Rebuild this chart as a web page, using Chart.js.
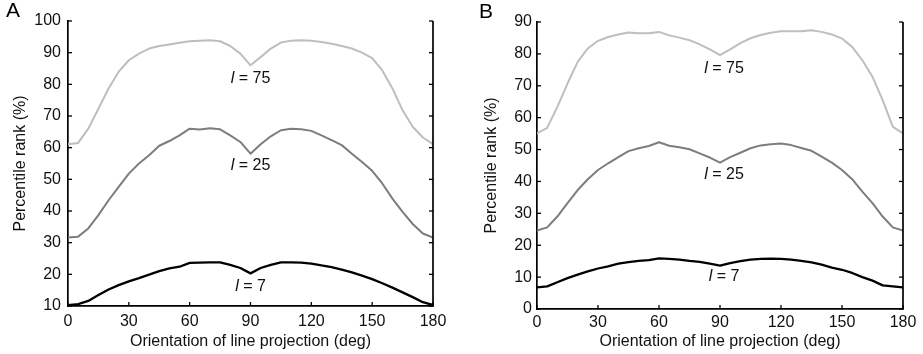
<!DOCTYPE html>
<html><head><meta charset="utf-8">
<script src="https://cdn.jsdelivr.net/npm/chart.js@4.4.1/dist/chart.umd.min.js"></script>
<style>
html,body{margin:0;padding:0;background:#fff;}
#wrap{position:relative;width:923px;height:354px;overflow:hidden;background:#fff;}
canvas{position:absolute;top:0;}
</style></head><body>
<div id="wrap">
<canvas id="a" width="462" height="354" style="left:0"></canvas>
<canvas id="b" width="461" height="354" style="left:462px"></canvas>
</div>
<script>
// ---- data ----
const angles = [0,5,10,15,20,25,30,35,40,45,50,55,60,65,70,75,80,85,90,95,100,105,110,115,120,125,130,135,140,145,150,155,160,165,170,175,180];
const xTicks = [0,30,60,90,120,150,180];
const seriesNames = ['l = 75','l = 25','l = 7'];

// Panel A
const aL75 = [61.1,61.5,66.0,72.3,78.7,84.0,87.6,89.7,91.3,92.1,92.6,93.1,93.6,93.8,93.9,93.6,92.1,89.7,86.0,88.6,91.3,93.2,93.8,93.9,93.8,93.4,92.8,92.1,91.3,90.0,88.3,84.4,78.7,71.8,66.6,63.2,61.1];
const aL25 = [31.6,31.9,34.5,38.7,43.4,47.6,51.8,55.0,57.6,60.6,62.1,63.9,66.0,65.7,66.1,65.8,63.9,61.8,58.1,61.1,63.6,65.5,66.0,65.8,65.3,63.9,62.4,60.8,58.1,55.5,52.7,48.7,43.9,39.7,35.9,32.9,31.6];
const aL7  = [10.3,10.6,11.6,13.5,15.2,16.6,17.8,18.8,19.9,21.0,21.9,22.4,23.6,23.7,23.8,23.8,23.0,22.0,20.3,22.0,23.0,23.8,23.8,23.7,23.4,22.8,22.3,21.5,20.6,19.6,18.5,17.2,15.8,14.3,12.8,11.2,10.3];
const aYTicks = [10,20,30,40,50,60,70,80,90,100];

// Panel B
const bL75 = [55.1,56.8,63.4,70.7,77.5,81.7,84.1,85.3,86.1,86.7,86.5,86.5,86.9,85.8,85.1,84.3,83.0,81.4,79.6,81.4,83.4,84.9,85.9,86.6,87.1,87.1,87.1,87.4,86.9,86.1,84.8,82.2,78.0,72.8,65.5,57.1,55.1];
const bL25 = [24.6,25.6,29.0,33.2,37.3,40.7,43.6,45.7,47.6,49.5,50.4,51.1,52.3,51.2,50.7,50.1,48.8,47.5,45.9,47.6,49.0,50.4,51.3,51.7,51.9,51.4,50.5,49.6,47.8,45.9,43.6,40.7,36.8,33.2,29.0,25.6,24.6];
const bL7  = [6.8,7.1,8.4,9.7,10.8,11.8,12.7,13.4,14.2,14.7,15.1,15.3,15.9,15.7,15.5,15.1,14.8,14.2,13.6,14.4,15.0,15.5,15.7,15.8,15.7,15.5,15.1,14.6,13.9,13.0,12.3,11.3,10.0,8.9,7.4,7.1,6.8];
const bYTicks = [0,10,20,30,40,50,60,70,80,90];

// label anchors (x, y in data units) for the curve labels
const aLabelAt = [[90,81.9],[90,54.2],[90,16.1]];
const bLabelAt = [[92,75.5],[92,42.3],[92,10.1]];

// ---- drawing ----
const FONT = 'Liberation Sans, Arial, sans-serif';
const colors = ['#bebebe','#7d7d7d','#000000'];
const widths = [2,2,2.3];

function pts(vals){ return angles.map((a,i)=>({x:a,y:vals[i]})); }

const deco = {
  id:'deco',
  afterDraw(chart){
    const o = chart.options.plugins.deco;
    const ctx = chart.ctx, ca = chart.chartArea;
    const xs = chart.scales.x, ys = chart.scales.y;
    ctx.save();
    ctx.strokeStyle = '#000'; ctx.lineWidth = 1.7;
    const ln=(x1,y1,x2,y2)=>{ctx.beginPath();ctx.moveTo(x1,y1);ctx.lineTo(x2,y2);ctx.stroke();};
    ln(ca.right, ca.top, ca.right, ca.bottom);
    ctx.lineWidth = 1.3;
    o.yTicks.forEach(v=>{const p=ys.getPixelForValue(v); ln(ca.left,p,ca.left+4,p); ln(ca.right,p,ca.right-4,p);});
    o.xTicks.forEach(v=>{const p=xs.getPixelForValue(v); ln(p,ca.bottom,p,ca.bottom-4);});
    // curve labels
    ctx.fillStyle = '#111'; ctx.textBaseline = 'middle';
    o.labels.forEach((lab,i)=>{
      const [vx,vy] = o.anchors[i];
      const px = xs.getPixelForValue(vx), py = ys.getPixelForValue(vy);
      const first = lab.slice(0,1), rest = lab.slice(1);
      ctx.font = 'italic 16px ' + FONT; const w1 = ctx.measureText(first).width;
      ctx.font = '16px ' + FONT; const w2 = ctx.measureText(rest).width;
      const x0 = px - (w1+w2)/2;
      ctx.textAlign = 'left';
      ctx.font = 'italic 16px ' + FONT; ctx.fillText(first, x0, py);
      ctx.font = '16px ' + FONT; ctx.fillText(rest, x0+w1, py);
    });
    // panel letter
    ctx.font = '21px ' + FONT; ctx.textAlign='left'; ctx.textBaseline='top'; ctx.fillStyle='#000';
    ctx.fillText(o.letter, o.letterX, o.letterY);
    ctx.restore();
  }
};

function makeChart(id, s75, s25, s7, yTicks, anchors, letter, L){
  new Chart(document.getElementById(id), {
    type:'line',
    data:{ datasets:[s75,s25,s7].map((s,i)=>({
      label: seriesNames[i], data: pts(s), borderColor: colors[i], borderWidth: widths[i],
      pointRadius:0, tension:0, fill:false, borderJoinStyle:'round' }))},
    options:{
      responsive:false, animation:false,
      layout:{padding:{top:L.top,right:L.right,left:0,bottom:0}},
      plugins:{ legend:{display:false}, tooltip:{enabled:false},
        deco:{ yTicks, xTicks, labels: seriesNames, anchors, letter, letterX:L.lx, letterY:L.ly } },
      scales:{
        x:{ type:'linear', min:0, max:180,
          afterBuildTicks(sc){ sc.ticks = xTicks.map(v=>({value:v})); },
          afterFit(sc){ sc.height = L.xh; },
          grid:{display:false, drawTicks:false},
          border:{display:true, color:'#000', width:1.7},
          ticks:{ color:'#111', font:{family:FONT,size:16}, padding:L.xpad, autoSkip:false, maxRotation:0 },
          title:{ display:true, text:'Orientation of line projection (deg)', color:'#111',
            font:{family:FONT,size:16}, padding:{top:0,bottom:L.xtp} } },
        y:{ min:yTicks[0], max:yTicks[yTicks.length-1],
          afterBuildTicks(sc){ sc.ticks = yTicks.map(v=>({value:v})); },
          afterFit(sc){ sc.width = L.yw; },
          grid:{display:false, drawTicks:false},
          border:{display:true, color:'#000', width:1.7},
          ticks:{ color:'#111', font:{family:FONT,size:16}, padding:L.ypad },
          title:{ display:true, text:'Percentile rank (%)', color:'#111',
            font:{family:FONT,size:16}, padding:{top:L.ytp,bottom:0} } }
      }
    },
    plugins:[deco]
  });
}

makeChart('a', aL75, aL25, aL7, aYTicks, aLabelAt, 'A',
  {top:21, right:29, xh:48, yw:68, xpad:6, xtp:3, ypad:7, ytp:11, lx:6, ly:1});
makeChart('b', bL75, bL25, bL7, bYTicks, bLabelAt, 'B',
  {top:22, right:20, xh:45, yw:75, xpad:4, xtp:3, ypad:5, ytp:20, lx:17, ly:2});
</script>
</body></html>
